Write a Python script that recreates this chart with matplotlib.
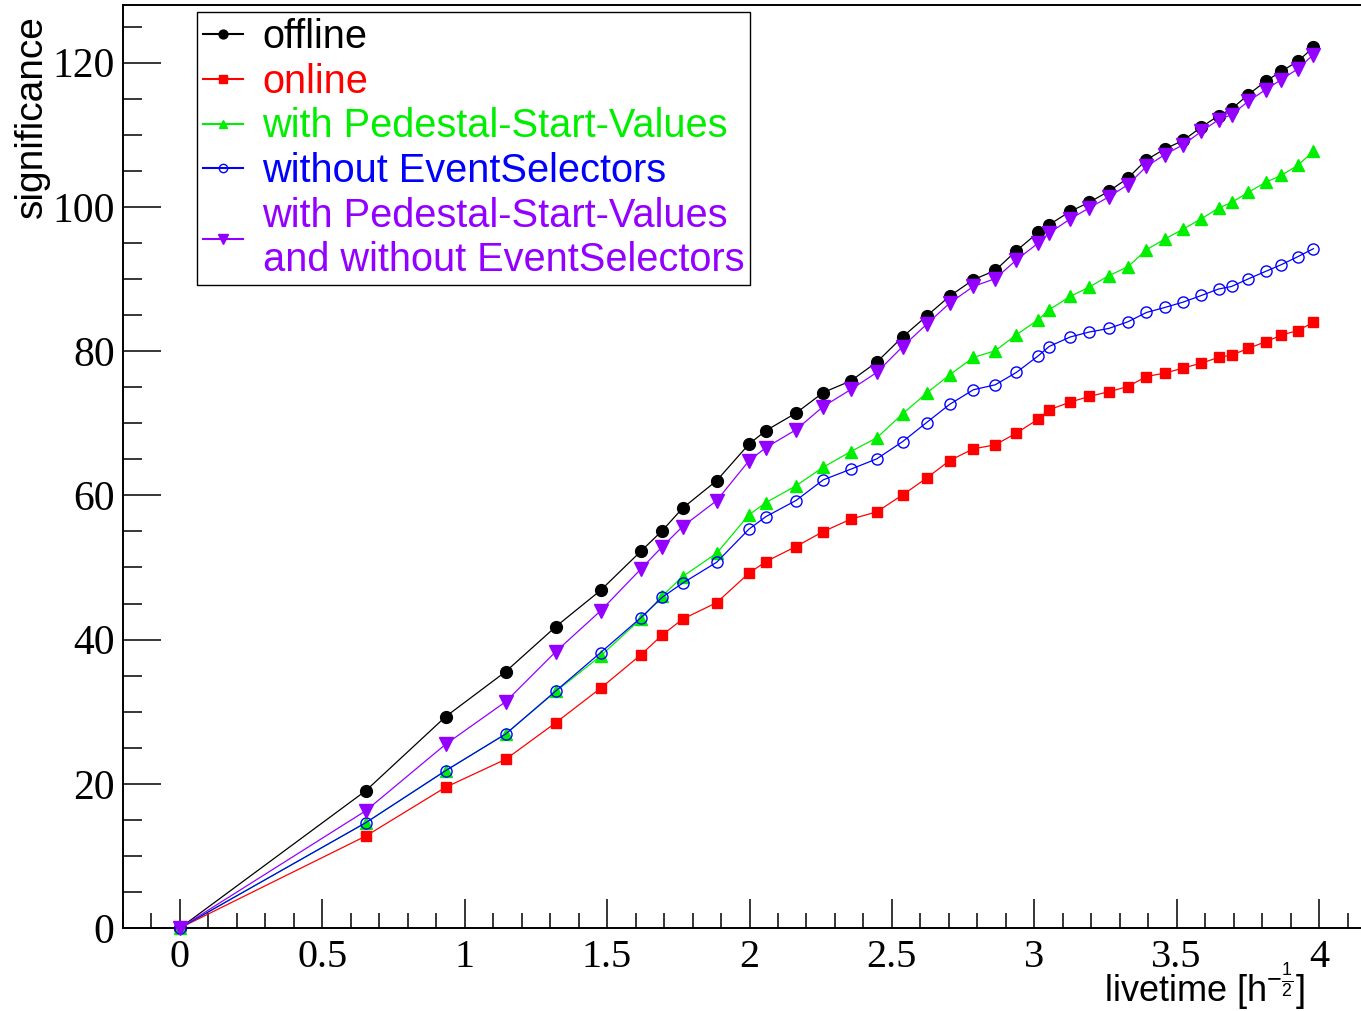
import matplotlib
matplotlib.use("Agg")
import matplotlib.pyplot as plt
from matplotlib.ticker import MultipleLocator
from matplotlib.lines import Line2D

# ---------------- data ----------------
livetime = [0.0, 0.653, 0.933, 1.144, 1.320, 1.477, 1.618, 1.694, 1.765, 1.885,
            1.998, 2.058, 2.163, 2.259, 2.356, 2.447, 2.538, 2.622, 2.703, 2.786,
            2.863, 2.937, 3.014, 3.052, 3.126, 3.192, 3.261, 3.329, 3.394, 3.458,
            3.523, 3.587, 3.647, 3.693, 3.751, 3.812, 3.867, 3.925, 3.980]

offline = [0.0, 19.05, 29.31, 35.56, 41.80, 46.82, 52.23, 55.12, 58.22, 62.05,
           67.10, 68.99, 71.40, 74.26, 75.88, 78.48, 81.99, 84.86, 87.63, 89.90,
           91.19, 93.92, 96.46, 97.53, 99.37, 100.62, 102.15, 104.00, 106.54, 108.03,
           109.22, 111.08, 112.65, 113.58, 115.56, 117.41, 118.79, 120.18, 122.12]

online = [0.0, 12.76, 19.52, 23.40, 28.48, 33.25, 37.87, 40.65, 42.83, 45.13,
          49.21, 50.82, 52.90, 54.98, 56.70, 57.71, 60.07, 62.39, 64.83, 66.45,
          67.01, 68.63, 70.57, 71.86, 72.93, 73.71, 74.36, 75.09, 76.48, 76.95,
          77.65, 78.34, 79.12, 79.45, 80.37, 81.30, 82.20, 82.86, 83.97]

pedestal = [0.0, 14.61, 21.82, 26.91, 32.81, 37.73, 42.83, 46.06, 48.74, 51.98,
            57.30, 59.00, 61.32, 63.91, 66.08, 67.98, 71.31, 74.18, 76.72, 79.12,
            80.05, 82.27, 84.35, 85.73, 87.58, 88.86, 90.45, 91.70, 94.06, 95.54,
            96.93, 98.36, 99.84, 100.62, 102.01, 103.40, 104.37, 105.75, 107.70]

no_selectors = [0.0, 14.61, 21.82, 26.91, 32.88, 38.19, 43.01, 45.88, 47.82, 50.73,
                55.31, 57.06, 59.28, 62.15, 63.63, 65.06, 67.46, 70.10, 72.62, 74.64,
                75.33, 77.04, 79.35, 80.64, 81.96, 82.64, 83.14, 84.07, 85.36, 86.05,
                86.80, 87.72, 88.61, 88.97, 90.01, 91.05, 91.98, 93.09, 94.20]

pedestal_no_selectors = [0.0, 16.27, 25.48, 31.39, 38.33, 43.98, 49.76, 52.90, 55.67, 59.28,
                         64.79, 66.63, 69.09, 72.32, 74.68, 77.04, 80.64, 83.72, 86.66, 88.97,
                         90.06, 92.63, 94.99, 96.37, 98.32, 99.84, 101.37, 103.08, 105.61, 107.24,
                         108.63, 110.47, 112.09, 112.79, 114.63, 116.25, 117.64, 119.13, 121.11]

labels = ["offline", "online", "with Pedestal-Start-Values", "without EventSelectors",
          "with Pedestal-Start-Values\nand without EventSelectors"]
x_ticks = [0, 0.5, 1, 1.5, 2, 2.5, 3, 3.5, 4]
x_ticklabels = ["0", "0.5", "1", "1.5", "2", "2.5", "3", "3.5", "4"]
y_ticks = [0, 20, 40, 60, 80, 100, 120]
y_ticklabels = ["0", "20", "40", "60", "80", "100", "120"]

# ---------------- style ----------------
plt.rcParams['mathtext.fontset'] = 'custom'
plt.rcParams['mathtext.rm'] = 'Liberation Sans'
plt.rcParams['mathtext.it'] = 'Liberation Sans'

W, H = 1361, 1011
fig = plt.figure(figsize=(W / 100, H / 100), dpi=100)
ax = fig.add_axes([123 / W, (H - 928) / H, (1376 - 123) / W, (928 - 5) / H])

series = [offline, online, pedestal, no_selectors, pedestal_no_selectors]
colors = ["#000000", "#ff0000", "#00ee00", "#0000ff", "#9400ff"]
markers = ["o", "s", "^", "o", "v"]
msizes = [8.5, 7, 8.5, 8, 10]
fills = [True, True, True, False, True]

handles = []
for y, c, m, ms, f, lab in zip(series, colors, markers, msizes, fills, labels):
    ax.plot(livetime, y, color=c, lw=0.9, marker=m, ms=ms,
            mfc=c if f else "none", mec=c, mew=1.0, clip_on=False, zorder=3)
    handles.append(Line2D([], [], color=c, lw=1.5, marker=m, ms=ms * 0.75,
                          mfc=c if f else "none", mec=c, mew=1.0, label=lab))

ax.set_xlim(-0.2, 4.2)
ax.set_ylim(0, 128)
ax.set_xticks(x_ticks)
ax.set_xticklabels(x_ticklabels)
ax.set_yticks(y_ticks)
ax.set_yticklabels(y_ticklabels)
ax.xaxis.set_minor_locator(MultipleLocator(0.1))
ax.yaxis.set_minor_locator(MultipleLocator(5))

for lab in ax.get_xticklabels():
    lab.set_fontfamily("Liberation Serif")
    lab.set_fontsize(29)
for lab in ax.get_yticklabels():
    lab.set_fontfamily("Liberation Serif")
    lab.set_fontsize(30)

ax.tick_params(axis="x", which="major", direction="in", length=21, width=1.1, pad=8)
ax.tick_params(axis="x", which="minor", direction="in", length=11, width=1.1)
ax.tick_params(axis="y", which="major", direction="in", length=27, width=1.1, pad=6)
ax.tick_params(axis="y", which="minor", direction="in", length=14, width=1.1)
ax.tick_params(top=False, right=False, which="both")
for s in ax.spines.values():
    s.set_linewidth(1.4)

fig.text(1305 / W, 1 - 1002 / H, r"livetime [h$^{-\frac{1}{2}}$]",
         ha="right", va="baseline", fontsize=26, family="Liberation Sans")
fig.text(32 / W, 1 - 15 / H, "significance", rotation=90, ha="center", va="top",
         fontsize=28, family="Liberation Sans")

leg = ax.legend(handles=handles, loc="upper left",
                bbox_to_anchor=(197 / W, 1 - 12 / H), bbox_transform=fig.transFigure,
                borderaxespad=0, prop={"family": "Liberation Sans", "size": 28.6},
                frameon=True, fancybox=False, edgecolor="black", framealpha=1,
                handlelength=1.0, handletextpad=0.5, labelspacing=0.17,
                borderpad=0.15)
leg.get_frame().set_linewidth(1.0)
for t, c in zip(leg.get_texts(), colors):
    t.set_color(c)

fig.savefig("out.png", dpi=100)
